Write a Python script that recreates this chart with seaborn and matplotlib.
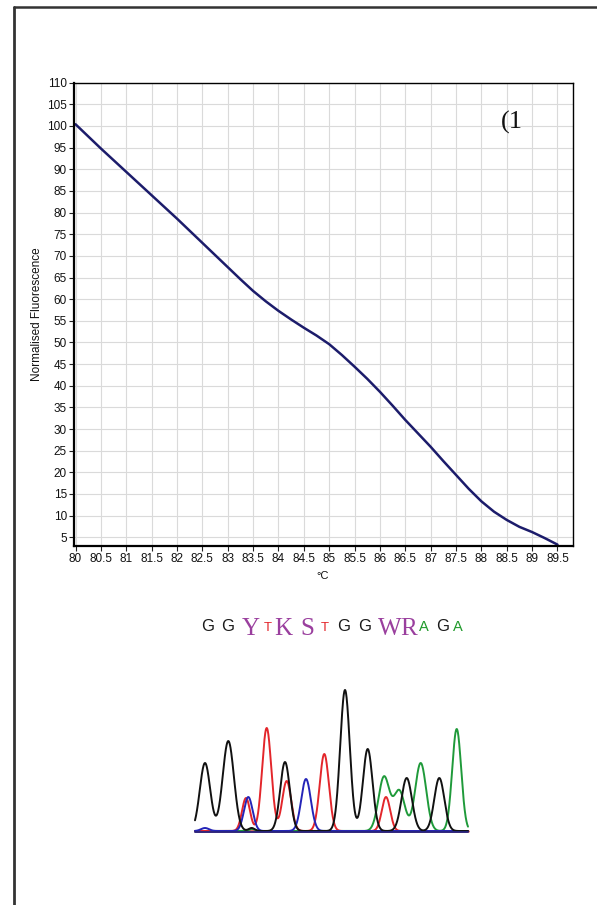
import numpy as np
import pandas as pd
import matplotlib
matplotlib.use("Agg")
import matplotlib.pyplot as plt
from matplotlib.lines import Line2D
from matplotlib import font_manager
import seaborn as sns

# ---------------- data ----------------
temps = [80.0, 80.25, 80.5, 80.75, 81.0, 81.25, 81.5, 81.75, 82.0, 82.25,
         82.5, 82.75, 83.0, 83.25, 83.5, 83.75, 84.0, 84.25, 84.5, 84.75,
         85.0, 85.25, 85.5, 85.75, 86.0, 86.25, 86.5, 86.75, 87.0, 87.25,
         87.5, 87.75, 88.0, 88.25, 88.5, 88.75, 89.0, 89.25, 89.5]
fluor = [100.4, 97.6, 94.8, 92.1, 89.4, 86.7, 84.0, 81.3, 78.6, 75.8,
         73.0, 70.2, 67.4, 64.6, 61.9, 59.5, 57.3, 55.3, 53.4, 51.6,
         49.6, 47.1, 44.4, 41.6, 38.6, 35.4, 32.1, 29.0, 25.9, 22.6,
         19.4, 16.2, 13.3, 10.9, 9.0, 7.4, 6.2, 4.8, 3.3]
x_ticks = [80, 80.5, 81, 81.5, 82, 82.5, 83, 83.5, 84, 84.5, 85, 85.5, 86,
           86.5, 87, 87.5, 88, 88.5, 89, 89.5]
x_tick_labels = ["80", "80.5", "81", "81.5", "82", "82.5", "83", "83.5", "84",
                 "84.5", "85", "85.5", "86", "86.5", "87", "87.5", "88", "88.5",
                 "89", "89.5"]
y_ticks = list(range(5, 111, 5))

seq_letters = ["G", "G", "Y", "T", "K", "S", "T", "G", "G", "W", "R", "A", "G", "A"]

# chromatogram peaks (scan position, height, width)
black_pos = [205, 228.3, 251.7, 285, 345, 367.7, 406.7, 439.3]
black_h = [68, 90, 3, 69, 141, 82, 53, 53]
black_w = [5.2, 5.6, 3, 4.8, 4.8, 4.8, 5.2, 5.0]
red_pos = [246, 266.7, 286.7, 324.3, 386]
red_h = [33, 103, 50, 77, 34]
red_w = [4.0, 4.6, 4.5, 4.6, 4.2]
blue_pos = [205, 248.3, 306]
blue_h = [3, 34, 52]
blue_w = [4.0, 4.3, 4.8]
green_pos = [252, 384, 399.3, 420.7, 456.7]
green_h = [2, 54, 40, 68, 102]
green_w = [3.0, 5.5, 5.5, 5.5, 4.5]

# ---------------- style ----------------
sns.set_theme(style="whitegrid")
plt.rcParams["font.family"] = ["Liberation Sans", "DejaVu Sans"]
names = {f.name for f in font_manager.fontManager.ttflist}
if "Liberation Sans Narrow" in names:
    tick_family, tick_size = ["Liberation Sans Narrow", "Liberation Sans"], 10
else:
    tick_family, tick_size = ["Liberation Sans"], 8.5

W, H = 597, 905
fig = plt.figure(figsize=(W / 100, H / 100), dpi=100)
fig.patch.set_facecolor("white")


def fx(px):
    return px / W


def fy(py):
    return 1 - py / H


# ---------------- melt curve ----------------
ax = fig.add_axes([fx(74), fy(545.7), (572.7 - 74) / W, (545.7 - 82.7) / H])
ax.set_facecolor("white")
df = pd.DataFrame({"temp": temps, "fluor": fluor})
sns.lineplot(data=df, x="temp", y="fluor", ax=ax, color="#1c1c6b", lw=1.8)
ax.set_xlim(79.97, 89.8)
ax.set_ylim(3.05, 110)
ax.set_xticks(x_ticks)
ax.set_xticklabels(x_tick_labels)
ax.set_yticks(y_ticks)
ax.set_yticklabels([str(v) for v in y_ticks])
for lab in ax.get_xticklabels() + ax.get_yticklabels():
    lab.set_family(tick_family)
    lab.set_fontsize(tick_size)
    lab.set_color("#111111")
ax.grid(True, color="#dadada", lw=0.8)
ax.tick_params(axis="both", which="both", direction="out", length=3.5,
               width=0.8, color="#222222", pad=1.5, bottom=True, left=True)
for side, sp in ax.spines.items():
    sp.set_color("#000000")
    sp.set_linewidth(1.6 if side in ("left", "bottom") else 1.0)
ax.set_xlabel("")
ax.set_ylabel("")
fig.text(fx(37), fy(314), "Normalised Fluorescence", rotation=90,
         ha="center", va="center", fontsize=8.5, color="#111111")
fig.text(fx(323), fy(576), "°C", ha="center", va="center", fontsize=8,
         color="#111111")
fig.text(fx(501), fy(122), "(1", ha="left", va="center", fontsize=19,
         family=["Liberation Serif", "DejaVu Serif"], color="#111111")

# ---------------- sequence text ----------------
PURPLE, RED, GREEN, BLACK = "#9a3f9e", "#e3262b", "#1f9a2a", "#1a1a1a"
seq_x = [207.8, 228, 251, 267.7, 283, 307.5, 324.5, 343.7, 364.4, 389.5,
         408.6, 423.6, 442.4, 457.4]
serif = ["Liberation Serif", "DejaVu Serif"]
sans = ["Liberation Sans", "DejaVu Sans"]
for ch, xp in zip(seq_letters, seq_x):
    if ch in "YKSWR":
        fig.text(fx(xp), fy(635), ch, ha="center", va="baseline",
                 fontsize=18, family=serif, color=PURPLE)
    elif ch == "T":
        fig.text(fx(xp), fy(630.7), ch, ha="center", va="baseline",
                 fontsize=9.5, family=sans, color=RED)
    elif ch == "A":
        fig.text(fx(xp), fy(631), ch, ha="center", va="baseline",
                 fontsize=10.5, family=sans, color=GREEN)
    else:
        fig.text(fx(xp), fy(630.7), ch, ha="center", va="baseline",
                 fontsize=12, family=sans, color=BLACK)

# ---------------- chromatogram ----------------
ax2 = fig.add_axes([fx(193), fy(835), 277 / W, 155 / H])
ax2.set_xlim(193, 470)
ax2.set_ylim(-4, 151)
ax2.axis("off")
scan = np.linspace(195, 468, 1400)


def trace(pos, hts, wds):
    y = np.zeros_like(scan)
    for p, h, w in zip(pos, hts, wds):
        y += h * np.exp(-((scan - p) ** 2) / (2 * w ** 2))
    return y


ax2.plot([195, 468], [0, 0], color="#d03030", lw=1.8, zorder=0)
channels = [
    (green_pos, green_h, green_w, "#1f9a3a"),
    (red_pos, red_h, red_w, "#e3262b"),
    (blue_pos, blue_h, blue_w, "#2424b8"),
    (black_pos, black_h, black_w, "#111111"),
]
for pos, hts, wds, col in channels:
    sns.lineplot(x=scan, y=trace(pos, hts, wds), ax=ax2, color=col, lw=1.4,
                 sort=False)
ax2.plot([195, 468], [-0.6, -0.6], color="#262680", lw=1.3, zorder=5)

# ---------------- frame ----------------
fig.add_artist(Line2D([fx(14), 1], [fy(7), fy(7)], color="#333333", lw=1.8))
fig.add_artist(Line2D([fx(14), fx(14)], [fy(7), 0], color="#333333", lw=2.0))

fig.savefig("out.png", dpi=100, facecolor="white")
